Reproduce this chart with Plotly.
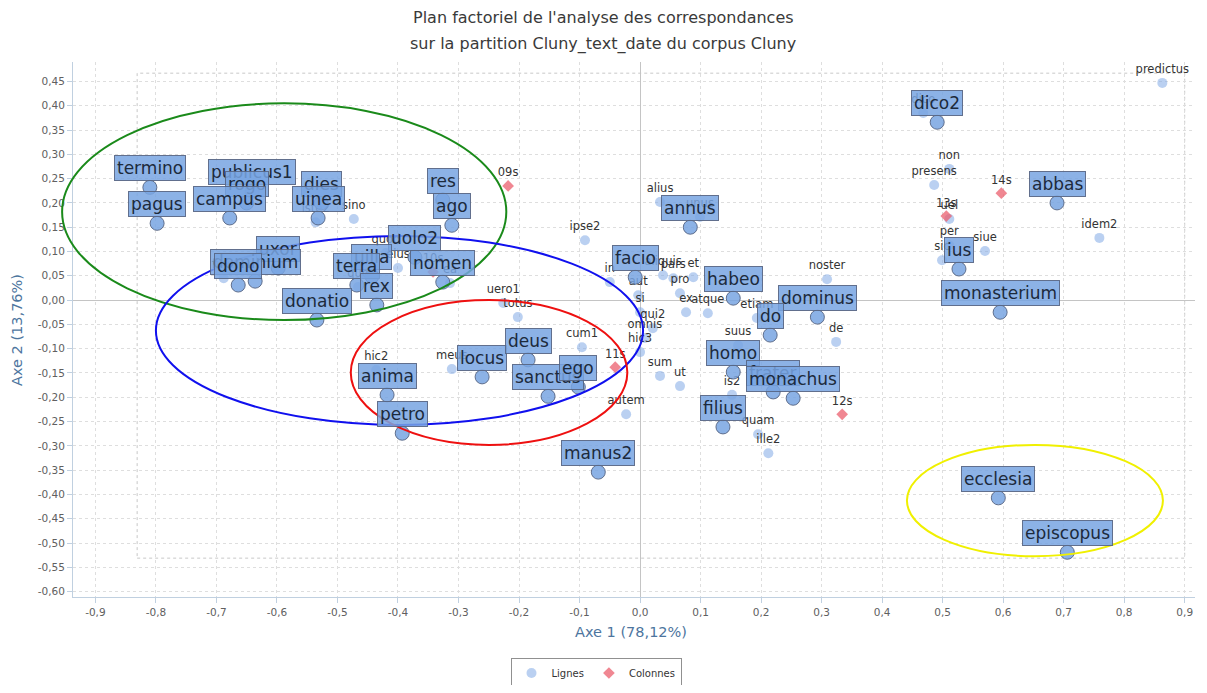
import plotly.graph_objects as go

# ---------------- data ----------------
# rows with large callout labels
big_names = ["termino", "pagus", "publicus1", "rogo", "campus", "dies", "uinea", "res", "ago",
             "uolo2", "uilla", "terra", "rex", "nomen", "donatio", "uxor", "dominium", "dono",
             "anima", "petro", "locus", "deus", "sanctus", "ego", "manus2", "facio", "annus",
             "habeo", "dominus", "do", "homo", "frater", "monachus", "filius", "dico2", "abbas",
             "ius", "monasterium", "ecclesia", "episcopus"]
big_x = [-0.810, -0.798, -0.641, -0.650, -0.678, -0.527, -0.532, -0.326, -0.311,
         -0.372, -0.443, -0.468, -0.435, -0.326, -0.534, -0.598, -0.636, -0.664,
         -0.418, -0.393, -0.261, -0.185, -0.152, -0.102, -0.069, -0.008, 0.083,
         0.154, 0.293, 0.215, 0.154, 0.220, 0.253, 0.137, 0.491, 0.689,
         0.527, 0.595, 0.592, 0.706]
big_y = [0.232, 0.158, 0.224, 0.200, 0.169, 0.200, 0.169, 0.206, 0.154,
         0.088, 0.049, 0.031, -0.010, 0.037, -0.041, 0.066, 0.039, 0.031,
         -0.195, -0.274, -0.158, -0.123, -0.198, -0.179, -0.354, 0.047, 0.150,
         0.004, -0.035, -0.072, -0.148, -0.189, -0.202, -0.261, 0.366, 0.200,
         0.064, -0.025, -0.407, -0.519]

# rows with small labels
small_names = ["iste2", "sino", "quod", "eius", "quo", "ea", "finis", "uero1", "totus", "hic2",
               "meus", "cum1", "autem", "hic3", "omnis", "qui2", "si", "aut", "in", "aliquis",
               "pars", "et", "pro", "ex", "atque", "alius", "ipse2", "noster", "etiam", "de",
               "suus", "sum", "ut", "is2", "quam", "ille2", "predictus", "non", "presens", "uel",
               "idem2", "per", "sic", "siue", "dico", "unus"]
small_x = [-0.536, -0.473, -0.420, -0.400, -0.466, -0.314, -0.688, -0.226, -0.202, -0.436,
           -0.311, -0.096, -0.023, 0.000, 0.008, 0.021, 0.000, -0.003, -0.050, 0.038,
           0.055, 0.088, 0.066, 0.076, 0.112, 0.033, -0.091, 0.309, 0.193, 0.324,
           0.162, 0.033, 0.066, 0.152, 0.195, 0.212, 0.863, 0.511, 0.486, 0.511,
           0.759, 0.511, 0.499, 0.570, 0.468, 0.099]
small_y = [0.160, 0.167, 0.097, 0.066, 0.027, 0.035, 0.045, -0.006, -0.035, -0.144,
           -0.142, -0.097, -0.235, -0.107, -0.078, -0.058, -0.025, 0.010, 0.037, 0.051,
           0.045, 0.047, 0.014, -0.025, -0.027, 0.202, 0.123, 0.043, -0.037, -0.086,
           -0.093, -0.156, -0.177, -0.195, -0.276, -0.315, 0.447, 0.270, 0.237, 0.167,
           0.128, 0.113, 0.082, 0.101, 0.385, 0.171]

# columns (periods)
col_names = ["09s", "10s", "11s", "12s", "13s", "14s"]
col_x = [-0.218, -0.342, -0.041, 0.334, 0.506, 0.597]
col_y = [0.235, 0.058, -0.138, -0.235, 0.173, 0.220]

# hand-drawn ellipses (data units: x0, x1, y0, y1)
ellipse_names = ["green", "blue", "red", "yellow"]
ellipse_x0 = [-0.955, -0.800, -0.478, 0.441]
ellipse_x1 = [-0.221, 0.005, -0.021, 0.864]
ellipse_y0 = [-0.041, -0.257, -0.298, -0.527]
ellipse_y1 = [0.405, 0.132, 0.000, -0.298]
ellipse_colors = ["#1a8a1a", "#1010ee", "#ee1010", "#f0f000"]

x_ticks = [round(-0.9 + 0.1 * i, 1) for i in range(19)]
y_ticks = [round(-0.60 + 0.05 * i, 2) for i in range(22)]
x_ticktext = [f"{v:.1f}".replace(".", ",") for v in x_ticks]
y_ticktext = [f"{v:.2f}".replace(".", ",") for v in y_ticks]

title_lines = ["Plan factoriel de l'analyse des correspondances",
               "sur la partition Cluny_text_date du corpus Cluny"]
x_title = "Axe 1 (78,12%)"
y_title = "Axe 2 (13,76%)"

# ---------------- figure ----------------
X_RANGE = [-0.937, 0.917]
Y_RANGE = [-0.611, 0.490]
FONT = "DejaVu Sans"
BOX_FILL = "rgba(120,164,226,0.85)"
BOX_LINE = "rgba(85,100,130,0.9)"

# plot area in window pixels (page has an 8px body margin)
PX_L, PX_R, PX_T, PX_B = 73, 1195, 62, 597
PW, PH = PX_R - PX_L, PX_B - PX_T


def px_x(sx):
    return (sx - PX_L) / PW


def px_y(sy):
    return (PX_B - sy) / PH


fig = go.Figure()

fig.add_trace(go.Scatter(
    x=small_x, y=small_y, text=small_names, mode="markers+text", name="Lignes",
    textposition="top center",
    textfont=dict(family=FONT, size=11.5, color="#333333"),
    marker=dict(size=10, color="rgba(130,170,230,0.55)", line=dict(width=0)),
    hoverinfo="text",
))
fig.add_trace(go.Scatter(
    x=col_x, y=col_y, text=col_names, mode="markers+text", name="Colonnes",
    textposition="top center",
    textfont=dict(family=FONT, size=11.5, color="#333333"),
    marker=dict(size=9, symbol="diamond", color="rgba(235,95,110,0.75)", line=dict(width=0)),
    hoverinfo="text",
))
fig.add_trace(go.Scatter(
    x=big_x, y=big_y, text=big_names, mode="markers", showlegend=False,
    marker=dict(size=14, color=BOX_FILL, line=dict(width=1, color=BOX_LINE)),
    hoverinfo="text",
))

for n, xv, yv in zip(big_names, big_x, big_y):
    fig.add_annotation(
        x=xv, y=yv, xref="x", yref="y", text=n, showarrow=False,
        yanchor="bottom", yshift=6,
        font=dict(family=FONT, size=17, color="#1c2a3c"),
        bgcolor=BOX_FILL, bordercolor=BOX_LINE,
        borderwidth=1, borderpad=2,
    )


def to_paper(v, r):
    return (v - r[0]) / (r[1] - r[0])


for x0, x1, y0, y1, c in zip(ellipse_x0, ellipse_x1, ellipse_y0, ellipse_y1, ellipse_colors):
    fig.add_shape(type="circle", xref="paper", yref="paper",
                  x0=to_paper(x0, X_RANGE), x1=to_paper(x1, X_RANGE),
                  y0=to_paper(y0, Y_RANGE), y1=to_paper(y1, Y_RANGE),
                  line=dict(color=c, width=2), layer="above")

# dotted frame
fig.add_shape(type="rect", xref="x", yref="y", x0=-0.831, x1=0.9, y0=-0.531, y1=0.467,
              line=dict(color="#c8c8c8", width=1, dash="dot"), layer="below")

for txt, sy in zip(title_lines, [17, 44]):
    fig.add_annotation(text=txt, xref="paper", yref="paper",
                       x=px_x(603), y=px_y(sy), xanchor="center", yanchor="middle",
                       showarrow=False, font=dict(family=FONT, size=16, color="#3a3a3a"))
fig.add_annotation(text=x_title, xref="paper", yref="paper",
                   x=px_x(631), y=px_y(632), xanchor="center", yanchor="middle", showarrow=False,
                   font=dict(family=FONT, size=14.5, color="#4d759e"))
fig.add_annotation(text=y_title, xref="paper", yref="paper", textangle=-90,
                   x=px_x(17), y=px_y(330), xanchor="center", yanchor="middle", showarrow=False,
                   font=dict(family=FONT, size=14.5, color="#4d759e"))

axis_common = dict(
    showline=True, linecolor="#c0d0e0", linewidth=1,
    ticks="outside", ticklen=5, tickcolor="#c0d0e0",
    showgrid=True, gridcolor="#dedede", griddash="dot", gridwidth=1,
    zeroline=True, zerolinecolor="#c4c4c4", zerolinewidth=1,
    tickfont=dict(family=FONT, size=10.5, color="#606060"),
)
fig.update_xaxes(range=X_RANGE, tickvals=x_ticks, ticktext=x_ticktext, **axis_common)
fig.update_yaxes(range=Y_RANGE, tickvals=y_ticks, ticktext=y_ticktext, **axis_common)

W, H = 1191, 677
OFF = 8
fig.update_layout(
    width=W, height=H,
    margin=dict(l=PX_L - OFF, r=W - (PX_R - OFF), t=PX_T - OFF, b=H - (PX_B - OFF),
                autoexpand=False),
    plot_bgcolor="white", paper_bgcolor="white",
    showlegend=True,
    legend=dict(orientation="h", x=px_x(596), xanchor="center", y=px_y(673), yanchor="middle",
                bordercolor="#909090", borderwidth=1, bgcolor="white",
                font=dict(family=FONT, size=10, color="#333333")),
)

fig.write_html("out.html")
